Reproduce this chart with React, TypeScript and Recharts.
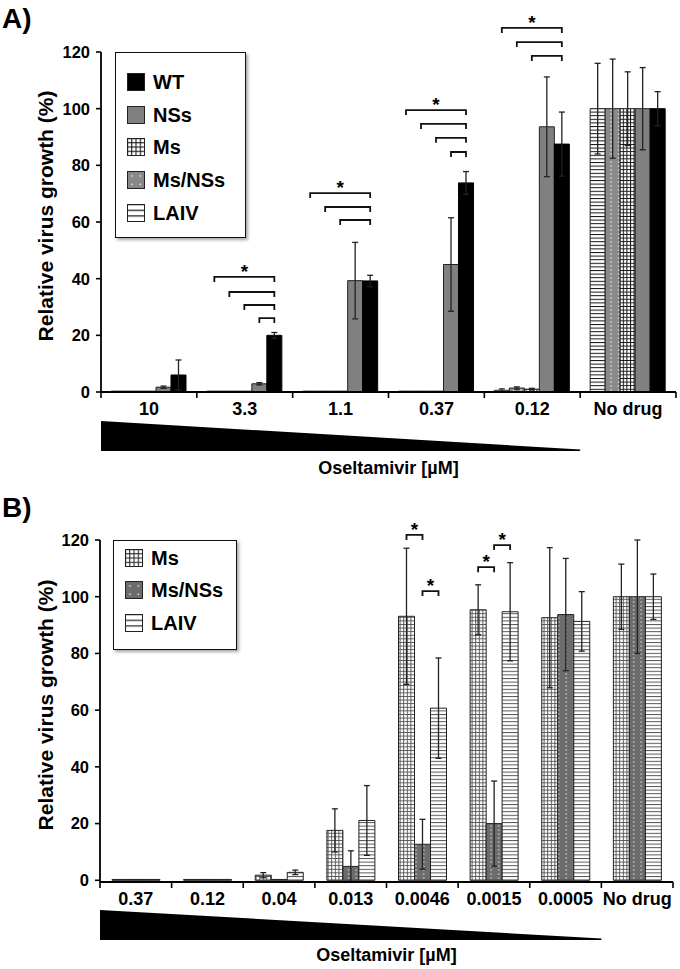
import React from 'react';
import { BarChart, Bar, XAxis, YAxis, ErrorBar, Legend, Rectangle } from 'recharts';

const FONT = "'Liberation Sans', Arial, Helvetica, sans-serif";

// ---------- Panel A data ----------
const catsA = ['10', '3.3', '1.1', '0.37', '0.12', 'No drug'];
const laivA = [0.3, 0.3, 0.3, 0.3, 0.6, 100];
const laivErrA = [null, null, null, null, 0.5, 16];
const msnssA = [0.3, 0.3, 0.3, 0.3, 1.4, 100];
const msnssErrA = [null, null, null, null, 0.4, 17.5];
const msA = [0.3, 0.3, 0.3, 0.3, 1.0, 100];
const msErrA = [null, null, null, null, 0.3, 13];
const nssA = [1.7, 2.9, 39.3, 45, 93.6, 100];
const nssErrA = [0.4, 0.4, 13.5, 16.5, 17.6, 14.5];
const wtA = [6, 20, 39.2, 73.8, 87.5, 100];
const wtErrA = [5.3, 1, 2, 4, 11.3, 6];

const bracketsA = [
  { cat: '3.3', from: 'laiv', to: 'wt', level: 40.6, star: true },
  { cat: '3.3', from: 'msnss', to: 'wt', level: 35.3 },
  { cat: '3.3', from: 'ms', to: 'wt', level: 30.7 },
  { cat: '3.3', from: 'nss', to: 'wt', level: 26.1 },
  { cat: '1.1', from: 'laiv', to: 'wt', level: 70.2, star: true },
  { cat: '1.1', from: 'msnss', to: 'wt', level: 65.3 },
  { cat: '1.1', from: 'ms', to: 'wt', level: 60.7 },
  { cat: '0.37', from: 'laiv', to: 'wt', level: 99.5, star: true },
  { cat: '0.37', from: 'msnss', to: 'wt', level: 94.6 },
  { cat: '0.37', from: 'ms', to: 'wt', level: 89.7 },
  { cat: '0.37', from: 'nss', to: 'wt', level: 84.7 },
  { cat: '0.12', from: 'laiv', to: 'wt', level: 128.5, star: true },
  { cat: '0.12', from: 'msnss', to: 'wt', level: 123.5 },
  { cat: '0.12', from: 'ms', to: 'wt', level: 118.6 },
];

// ---------- Panel B data ----------
const catsB = ['0.37', '0.12', '0.04', '0.013', '0.0046', '0.0015', '0.0005', 'No drug'];
const msB = [0.3, 0.3, 1.8, 17.6, 93.1, 95.4, 92.6, 100];
const msErrB = [null, null, 0.9, 7.6, 24, 8.8, 24.7, 11.5];
const msnssB = [0.3, 0.3, 0.3, 4.9, 12.7, 20, 93.7, 100];
const msnssErrB = [null, null, null, 5.5, 8.8, 15, 19.8, 20];
const laivB = [0.3, 0.3, 2.8, 21.1, 60.7, 94.7, 91.3, 100];
const laivErrB = [null, null, 0.8, 12.3, 17.7, 17.3, 10.5, 8];

const bracketsB = [
  { cat: '0.0046', from: 'ms', to: 'msnss', level: 121.8, star: true },
  { cat: '0.0046', from: 'msnss', to: 'laiv', level: 102, star: true },
  { cat: '0.0015', from: 'ms', to: 'msnss', level: 110.4, star: true },
  { cat: '0.0015', from: 'msnss', to: 'laiv', level: 118.2, star: true },
];

const yTicks = [0, 20, 40, 60, 80, 100, 120];

const rowsA = catsA.map((cat, i) => ({
  cat,
  laiv: laivA[i], laivErr: laivErrA[i],
  msnss: msnssA[i], msnssErr: msnssErrA[i],
  ms: msA[i], msErr: msErrA[i],
  nss: nssA[i], nssErr: nssErrA[i],
  wt: wtA[i], wtErr: wtErrA[i],
}));

const rowsB = catsB.map((cat, i) => ({
  cat,
  ms: msB[i], msErr: msErrB[i],
  msnss: msnssB[i], msnssErr: msnssErrB[i],
  laiv: laivB[i], laivErr: laivErrB[i],
}));

const orderA = ['laiv', 'msnss', 'ms', 'nss', 'wt'];
const orderB = ['ms', 'msnss', 'laiv'];

function bracketShape(brackets: any[], order: string[], anchor: string) {
  return (props: any) => {
    const { x, y, width, height, payload } = props;
    const rect = <Rectangle {...props} />;
    const list = brackets.filter((b) => b.cat === payload.cat);
    if (!list.length) return rect;
    const v = payload[anchor];
    const ppu = height / v;
    const base = y + height;
    const ai = order.indexOf(anchor);
    const cx = (k: string) => x + width / 2 + (order.indexOf(k) - ai) * width;
    return (
      <g>
        {rect}
        {list.map((b, j) => {
          const ly = base - b.level * ppu;
          const x1 = cx(b.from);
          const x2 = cx(b.to);
          return (
            <g key={j}>
              <path d={`M${x1},${ly + 5}V${ly}H${x2}V${ly + 5}`} fill="none" stroke="#111" strokeWidth={1.8} />
              {b.star ? (
                <text x={(x1 + x2) / 2} y={ly + 1} textAnchor="middle" fontSize={19} fontWeight={700} fontFamily={FONT} fill="#000">
                  *
                </text>
              ) : null}
            </g>
          );
        })}
      </g>
    );
  };
}

const XTick = (props: any) => {
  const { x, y, payload, n, labelDy, wedgeTop, wedgeBottom, titleDy } = props;
  const half = payload && payload.offset ? payload.offset : 0;
  const idx = payload.index;
  const left = x - half;
  return (
    <g>
      <line x1={left} x2={left} y1={y} y2={y + 6} stroke="#000" strokeWidth={1.6} />
      {idx === n - 1 ? <line x1={x + half} x2={x + half} y1={y} y2={y + 6} stroke="#000" strokeWidth={1.6} /> : null}
      <text x={x} y={y + labelDy} textAnchor="middle" fontSize={18} fontWeight={700} fontFamily={FONT} fill="#000">
        {payload.value}
      </text>
      {idx === 0 ? (
        <g>
          <polygon
            points={`${left},${y + wedgeTop} ${left + (n - 1) * 2 * half},${y + wedgeBottom - 1.5} ${left + (n - 1) * 2 * half},${y + wedgeBottom} ${left},${y + wedgeBottom}`}
            fill="#000"
          />
          <text x={left + n * half} y={y + titleDy} textAnchor="middle" fontSize={18} fontWeight={700} fontFamily={FONT} fill="#000">
            Oseltamivir [µM]
          </text>
        </g>
      ) : null}
    </g>
  );
};

const YTitle = (props: any) => {
  const vb = props.viewBox || { x: 0, y: 0, width: 100, height: 340 };
  const cy = vb.y + vb.height / 2 - 6;
  return (
    <text
      transform={`translate(45, ${cy}) rotate(-90)`}
      textAnchor="middle"
      dominantBaseline="central"
      fontSize={21}
      fontWeight={700}
      fontFamily={FONT}
      fill="#000"
    >
      Relative virus growth (%)
    </text>
  );
};

const legendA = [
  { key: 'wt', label: 'WT', fill: '#000' },
  { key: 'nss', label: 'NSs', fill: '#808080' },
  { key: 'ms', label: 'Ms', fill: 'url(#lgGridA)' },
  { key: 'msnss', label: 'Ms/NSs', fill: 'url(#lgDotA)' },
  { key: 'laiv', label: 'LAIV', fill: 'url(#lgHlineA)' },
];
const legendB = [
  { key: 'ms', label: 'Ms', fill: 'url(#lgGridB)' },
  { key: 'msnss', label: 'Ms/NSs', fill: 'url(#lgDotB)' },
  { key: 'laiv', label: 'LAIV', fill: 'url(#lgHlineB)' },
];

const LegendBox = ({ items, padTop, rowH }: any) => (
  <div
    style={{
      width: '100%',
      height: '100%',
      boxSizing: 'border-box',
      border: '1.5px solid #111',
      background: '#fff',
      boxShadow: '2px 2px 3px rgba(0,0,0,0.35)',
      paddingTop: padTop,
      fontFamily: FONT,
    }}
  >
    {items.map((it: any) => (
      <div key={it.key} style={{ height: rowH, display: 'flex', alignItems: 'center' }}>
        <svg width={18} height={18} style={{ marginLeft: 11, display: 'block' }}>
          <rect x={0.5} y={0.5} width={17} height={17} fill={it.fill} stroke="#222" strokeWidth={1} />
        </svg>
        <span style={{ marginLeft: 8, fontSize: 20, fontWeight: 700, color: '#000', lineHeight: 1 }}>{it.label}</span>
      </div>
    ))}
  </div>
);

const fillsA: Record<string, string> = {
  laiv: 'url(#hlineA)',
  msnss: 'url(#dotA)',
  ms: 'url(#gridA)',
  nss: '#808080',
  wt: '#000',
};
const fillsB: Record<string, string> = {
  ms: 'url(#gridB)',
  msnss: 'url(#dotB)',
  laiv: 'url(#hlineB)',
};

const tickStyle = { fill: '#000', fontSize: 16.5, fontWeight: 700, fontFamily: FONT };

export default function App() {
  return (
    <div style={{ position: 'absolute', left: 0, top: 0, width: 680, height: 969, background: '#fff', fontFamily: FONT }}>
      <svg width={0} height={0} style={{ position: 'absolute' }}>
        <defs>
          <pattern id="gridA" width="3.6" height="3.6" patternUnits="userSpaceOnUse">
            <rect width="3.6" height="3.6" fill="#fff" />
            <path d="M0,0.5H3.6M0.5,0V3.6" stroke="#111" strokeWidth="1" />
          </pattern>
          <pattern id="hlineA" width="4" height="3.6" patternUnits="userSpaceOnUse">
            <rect width="4" height="3.6" fill="#fff" />
            <path d="M0,0.5H4" stroke="#111" strokeWidth="1" />
          </pattern>
          <pattern id="dotA" width="7.5" height="4" patternUnits="userSpaceOnUse">
            <rect width="7.5" height="4" fill="#8a8a8a" />
            <rect x="3" y="1.4" width="1.3" height="1.3" fill="#fff" />
          </pattern>
          <pattern id="gridB" width="3.6" height="3.6" patternUnits="userSpaceOnUse">
            <rect width="3.6" height="3.6" fill="#fff" />
            <path d="M0,0.5H3.6M0.5,0V3.6" stroke="#555" strokeWidth="1" />
          </pattern>
          <pattern id="hlineB" width="4" height="3.6" patternUnits="userSpaceOnUse">
            <rect width="4" height="3.6" fill="#fff" />
            <path d="M0,0.5H4" stroke="#555" strokeWidth="1" />
          </pattern>
          <pattern id="dotB" width="7.5" height="4" patternUnits="userSpaceOnUse">
            <rect width="7.5" height="4" fill="#6c6c6c" />
            <rect x="3" y="1.4" width="1.3" height="1.3" fill="#ddd" />
          </pattern>
          <pattern id="lgGridA" width="4.25" height="4.25" patternUnits="userSpaceOnUse">
            <rect width="4.25" height="4.25" fill="#fff" />
            <path d="M0,0.5H4.25M0.5,0V4.25" stroke="#111" strokeWidth="1.1" />
          </pattern>
          <pattern id="lgHlineA" width="17" height="5.67" patternUnits="userSpaceOnUse">
            <rect width="17" height="5.67" fill="#fff" />
            <path d="M0,0.6H17" stroke="#111" strokeWidth="1.2" />
          </pattern>
          <pattern id="lgDotA" width="8.5" height="8.5" patternUnits="userSpaceOnUse">
            <rect width="8.5" height="8.5" fill="#888" />
            <rect x="4.2" y="4.2" width="1.4" height="1.4" fill="#fff" />
          </pattern>
          <pattern id="lgGridB" width="4.25" height="4.25" patternUnits="userSpaceOnUse">
            <rect width="4.25" height="4.25" fill="#fff" />
            <path d="M0,0.5H4.25M0.5,0V4.25" stroke="#222" strokeWidth="1.1" />
          </pattern>
          <pattern id="lgHlineB" width="17" height="5.67" patternUnits="userSpaceOnUse">
            <rect width="17" height="5.67" fill="#fff" />
            <path d="M0,0.6H17" stroke="#222" strokeWidth="1.2" />
          </pattern>
          <pattern id="lgDotB" width="8.5" height="8.5" patternUnits="userSpaceOnUse">
            <rect width="8.5" height="8.5" fill="#6c6c6c" />
            <rect x="4.2" y="4.2" width="1.4" height="1.4" fill="#fff" />
          </pattern>
        </defs>
      </svg>

      <div style={{ position: 'absolute', left: 0, top: 0 }}>
        <BarChart width={680} height={480} data={rowsA} margin={{ top: 52, right: 4, left: 0, bottom: 0 }} barGap={0} barSize={15}>
          <XAxis
            dataKey="cat"
            height={88}
            tickSize={0}
            tickMargin={0}
            tickLine={false}
            axisLine={{ stroke: '#000', strokeWidth: 1.8 }}
            interval={0}
            tick={(p: any) => <XTick {...p} n={catsA.length} labelDy={23} wedgeTop={29} wedgeBottom={59} titleDy={82} />}
          />
          <YAxis
            width={101}
            domain={[0, 120]}
            ticks={yTicks}
            interval={0}
            tickSize={5}
            tickMargin={6}
            tick={tickStyle}
            tickLine={{ stroke: '#000', strokeWidth: 1.6 }}
            axisLine={{ stroke: '#000', strokeWidth: 1.8 }}
            label={<YTitle />}
          />
          <Legend
            layout="vertical"
            align="center"
            verticalAlign="middle"
            wrapperStyle={{ left: 115, top: 52, width: 131, height: 186 }}
            content={() => <LegendBox items={legendA} padTop={12.5} rowH={32.7} />}
          />
          {orderA.map((k) => (
            <Bar
              key={k}
              dataKey={k}
              fill={fillsA[k]}
              stroke={k === 'wt' ? '#000' : '#222'}
              strokeWidth={1}
              isAnimationActive={false}
              shape={k === 'wt' ? bracketShape(bracketsA, orderA, 'wt') : undefined}
            >
              <ErrorBar dataKey={`${k}Err`} width={3} stroke="#222" strokeWidth={1.3} direction="y" isAnimationActive={false} />
            </Bar>
          ))}
        </BarChart>
      </div>

      <div style={{ position: 'absolute', left: 0, top: 480 }}>
        <BarChart width={680} height={489} data={rowsB} margin={{ top: 60, right: 7, left: 0, bottom: 0 }} barGap={0} barSize={16}>
          <XAxis
            dataKey="cat"
            height={87}
            tickSize={0}
            tickMargin={0}
            tickLine={false}
            axisLine={{ stroke: '#000', strokeWidth: 1.8 }}
            interval={0}
            tick={(p: any) => <XTick {...p} n={catsB.length} labelDy={23} wedgeTop={28} wedgeBottom={58} titleDy={79} />}
          />
          <YAxis
            width={100}
            domain={[0, 120]}
            ticks={yTicks}
            interval={0}
            tickSize={5}
            tickMargin={6}
            tick={tickStyle}
            tickLine={{ stroke: '#000', strokeWidth: 1.6 }}
            axisLine={{ stroke: '#000', strokeWidth: 1.8 }}
            label={<YTitle />}
          />
          <Legend
            layout="vertical"
            align="center"
            verticalAlign="middle"
            wrapperStyle={{ left: 113, top: 60, width: 124, height: 110 }}
            content={() => <LegendBox items={legendB} padTop={1} rowH={32.3} />}
          />
          {orderB.map((k) => (
            <Bar
              key={k}
              dataKey={k}
              fill={fillsB[k]}
              stroke="#222"
              strokeWidth={1}
              isAnimationActive={false}
              shape={k === 'msnss' ? bracketShape(bracketsB, orderB, 'msnss') : undefined}
            >
              <ErrorBar dataKey={`${k}Err`} width={3} stroke="#222" strokeWidth={1.3} direction="y" isAnimationActive={false} />
            </Bar>
          ))}
        </BarChart>
      </div>

      <div style={{ position: 'absolute', left: 2, top: 4, fontSize: 28, fontWeight: 700, lineHeight: '30px', color: '#000' }}>A)</div>
      <div style={{ position: 'absolute', left: 2, top: 493, fontSize: 28, fontWeight: 700, lineHeight: '30px', color: '#000' }}>B)</div>
    </div>
  );
}
